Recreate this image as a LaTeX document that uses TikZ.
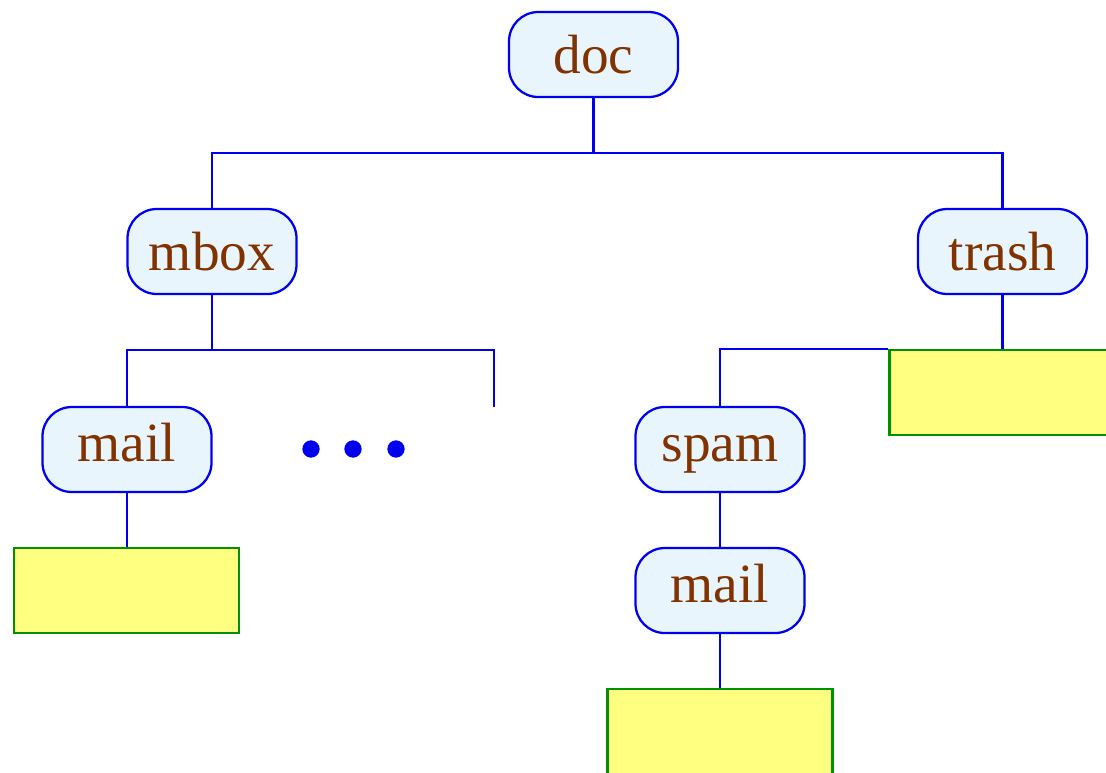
\documentclass[tikz,border=0pt]{standalone}
\usepackage{fontspec}
\setmainfont{Liberation Serif}
\definecolor{nodeblue}{HTML}{0000F0}
\definecolor{nodefill}{HTML}{E8F5FD}
\definecolor{txtbrown}{HTML}{803300}
\definecolor{boxyellow}{HTML}{FFFF80}
\definecolor{boxgreen}{HTML}{009000}
\tikzset{
  tnode/.style={draw=nodeblue, fill=nodefill, line width=1.7pt, rounded corners=22pt,
    minimum width=126.75pt, minimum height=63.75pt, inner sep=0pt,
    text=txtbrown, font=\fontsize{41.5}{50}\selectfont, text height=32pt, text depth=2.8pt},
  lownode/.style={tnode, text height=30pt, text depth=12pt},
  ybox/.style={draw=boxgreen, fill=boxyellow, line width=1.7pt,
    minimum width=168.75pt, minimum height=63.75pt, inner sep=0pt},
  edge/.style={draw=nodeblue, line width=1.7pt},
  dot/.style={fill=nodeblue, circle, minimum size=13pt, inner sep=0pt}
}
\begin{document}
\begin{tikzpicture}[x=0.75pt, y=-0.75pt]
\useasboundingbox (0,0) rectangle (1106,772);
\begin{scope}
\clip (0,0) rectangle (1106,772);
\node[ybox] (trashbox) at (1002,392.5) {};
\node[ybox] (box1) at (126.5,590.5) {};
\node[ybox] (box3) at (720,731.5) {};
\end{scope}
\node[tnode] (doc) at (593.5,54.5) {doc};
\node[tnode] (mbox) at (212,251.5) {mbox};
\node[tnode] (trash) at (1002.5,251.5) {trash};
\node[lownode] (mail1) at (127,449.5) {mail};
\node[lownode] (spam) at (720,449.5) {spam};
\node[lownode] (mail2) at (720,590.5) {mail};
\node[dot] (d1) at (311,449) {};
\node[dot] (d2) at (353,449) {};
\node[dot] (d3) at (396,449) {};
\coordinate (more) at (494,407);
\draw[edge] (doc.south) -- (doc.south |- 0,153);
\draw[edge] (mbox.north) -- (mbox.north |- 0,153) -- (trash.north |- 0,153) -- (trash.north);
\draw[edge] (mbox.south) -- (mbox.south |- 0,350);
\draw[edge] (mail1.north) -- (mail1.north |- 0,350) -- (more |- 0,350) -- (more);
\draw[edge] (trash.south) -- (trash.south |- trashbox.north);
\draw[edge] (spam.north) |- (trashbox.north west);
\draw[edge] (spam.south) -- (mail2.north);
\draw[edge] (mail2.south) -- (box3.north);
\draw[edge] (mail1.south) -- (mail1.south |- box1.north);
\end{tikzpicture}
\end{document}
